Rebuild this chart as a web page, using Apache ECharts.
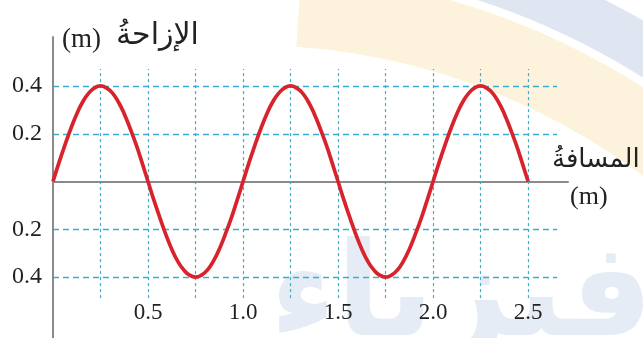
<!DOCTYPE html>
<html><head><meta charset="utf-8">
<script src="https://cdn.jsdelivr.net/npm/echarts@6/dist/echarts.min.js"></script>
<style>html,body{margin:0;padding:0;background:#fff}#c{width:643px;height:338px}</style>
</head><body><div id="c"></div>
<script>
// ---- data ----
const distance = [
  0,0.031,0.063,0.094,0.125,0.156,0.188,0.219,
  0.25,0.281,0.313,0.344,0.375,0.406,0.438,0.469,
  0.5,0.531,0.563,0.594,0.625,0.656,0.688,0.719,
  0.75,0.781,0.813,0.844,0.875,0.906,0.938,0.969,
  1.0,1.031,1.063,1.094,1.125,1.156,1.188,1.219,
  1.25,1.281,1.313,1.344,1.375,1.406,1.438,1.469,
  1.5,1.531,1.563,1.594,1.625,1.656,1.688,1.719,
  1.75,1.781,1.813,1.844,1.875,1.906,1.938,1.969,
  2.0,2.031,2.063,2.094,2.125,2.156,2.188,2.219,
  2.25,2.281,2.313,2.344,2.375,2.406,2.438,2.469,
  2.5];
const displacement = [
  0,0.078,0.153,0.222,0.283,0.333,0.370,0.392,
  0.400,0.392,0.370,0.333,0.283,0.222,0.153,0.078,
  0,-0.078,-0.153,-0.222,-0.283,-0.333,-0.370,-0.392,
  -0.400,-0.392,-0.370,-0.333,-0.283,-0.222,-0.153,-0.078,
  0,0.078,0.153,0.222,0.283,0.333,0.370,0.392,
  0.400,0.392,0.370,0.333,0.283,0.222,0.153,0.078,
  0,-0.078,-0.153,-0.222,-0.283,-0.333,-0.370,-0.392,
  -0.400,-0.392,-0.370,-0.333,-0.283,-0.222,-0.153,-0.078,
  0,0.078,0.153,0.222,0.283,0.333,0.370,0.392,
  0.400,0.392,0.370,0.333,0.283,0.222,0.153,0.078,
  0];
const xTickValues = [0.5,1.0,1.5,2.0,2.5];
const yTickValues = [-0.4,-0.2,0.2,0.4];
const xGridValues = [0.25,0.5,0.75,1.0,1.25,1.5,1.75,2.0,2.25,2.5];
const yGridValues = [-0.4,-0.2,0.2,0.4];
const yTitleUnit = '(m)';
const yTitle = 'الإزاحةُ';
const xTitle = 'المسافةُ';
const xUnit = '(m)';

// ---- axis extents ----
const X_MIN = 0, X_MAX = 2.71;
const Y_MIN = -0.655, Y_MAX = 0.605;
const GRID_X_END = 2.653, GRID_Y_LOW = -0.488, GRID_Y_HIGH = 0.471;

const serif = "'Liberation Serif','DejaVu Sans',serif";
const arab = "'DejaVu Sans',sans-serif";
const dashColor = '#3aaed0';

const vLines = xGridValues.map(x => [{coord:[x, GRID_Y_LOW]},{coord:[x, GRID_Y_HIGH]}]);
const hLines = yGridValues.map(y => [{coord:[X_MIN, y]},{coord:[GRID_X_END, y]}]);

const chart = echarts.init(document.getElementById('c'), null, {renderer:'canvas'});
chart.setOption({
  animation:false,
  backgroundColor:'#fff',
  graphic:[
    // faint background watermark bands
    {type:'sector', z:-10, silent:true, shape:{cx:250, cy:700, r0:655, r:728, startAngle:-1.50, endAngle:-0.75},
      style:{fill:'#fdf3dc'}},
    {type:'sector', z:-10, silent:true, shape:{cx:250, cy:700, r0:736, r:785, startAngle:-1.35, endAngle:-0.75},
      style:{fill:'#dfe6f2'}},
    {type:'text', z:-10, silent:true, right:-10, bottom:-28, style:{text:'فيزياء', font:"bold 130px "+arab, fill:'#e6ecf6'}},
    // titles
    {type:'text', left:62, top:26, z:10, style:{text:yTitleUnit, font:"27px "+serif, fill:'#222'}},
    {type:'text', left:116, top:21, z:10, style:{text:yTitle, font:"30px "+arab, fill:'#222'}},
    {type:'text', left:552, top:147, z:10, style:{text:xTitle, font:"26px "+arab, fill:'#222'}},
    {type:'text', left:570, top:184, z:10, style:{text:xUnit, font:"26px "+serif, fill:'#222'}}
  ],
  grid:{left:53, right:75, top:37, bottom:0, containLabel:false},
  xAxis:[{
    type:'value', min:X_MIN, max:X_MAX, position:'bottom',
    axisLine:{onZero:true, lineStyle:{color:'#8a8a8a', width:2}},
    axisTick:{show:false}, axisLabel:{show:false}, splitLine:{show:false}
  },{
    type:'value', min:X_MIN, max:X_MAX, position:'bottom',
    axisLine:{show:false}, axisTick:{show:false}, splitLine:{show:false},
    axisLabel:{show:true, inside:true, margin:14, customValues:xTickValues,
      formatter:v=>v.toFixed(1), fontFamily:serif, fontSize:23, color:'#222'}
  }],
  yAxis:{
    type:'value', min:Y_MIN, max:Y_MAX,
    axisLine:{show:true, onZero:false, lineStyle:{color:'#8a8a8a', width:2}},
    axisTick:{show:false}, splitLine:{show:false},
    axisLabel:{show:true, margin:11, customValues:yTickValues,
      formatter:v=>Math.abs(v).toFixed(1), fontFamily:serif, fontSize:24, color:'#222'}
  },
  series:[{
    type:'line', data:[], z:1, silent:true,
    markLine:{silent:true, symbol:'none', label:{show:false}, animation:false,
      lineStyle:{color:dashColor, width:1.2, type:[3,3]}, data:vLines}
  },{
    type:'line', data:[], z:1, silent:true,
    markLine:{silent:true, symbol:'none', label:{show:false}, animation:false,
      lineStyle:{color:dashColor, width:1.3, type:[6,4]}, data:hLines}
  },{
    type:'line', z:5, smooth:true, showSymbol:false, silent:true,
    lineStyle:{color:'#d8232c', width:3.7},
    data: distance.map((d,i)=>[d, displacement[i]])
  }]
});
</script></body></html>
